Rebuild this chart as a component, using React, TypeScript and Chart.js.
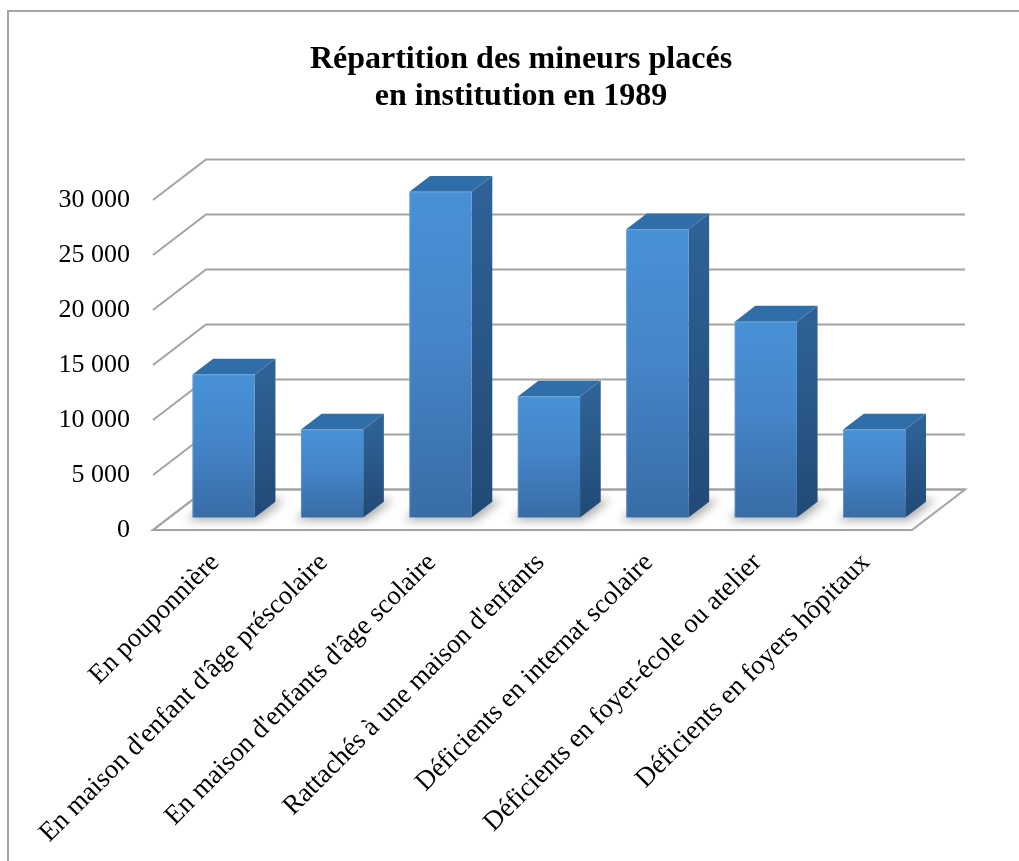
import React, { useEffect, useRef } from "react";
import { Chart, registerables } from "chart.js";

Chart.register(...registerables);

const categories: string[] = [
  "En pouponnière",
  "En maison d'enfant d'âge préscolaire",
  "En maison d'enfants d'âge scolaire",
  "Rattachés à une maison d'enfants",
  "Déficients en internat scolaire",
  "Déficients en foyer-école ou atelier",
  "Déficients en foyers hôpitaux",
];
const values: number[] = [13000, 8000, 29600, 11000, 26200, 17800, 8000];
const yTickValues: number[] = [0, 5000, 10000, 15000, 20000, 25000, 30000];
const titleLines: string[] = ["Répartition des mineurs placés", "en institution en 1989"];

const FONT = '"Liberation Serif", "Times New Roman", serif';
const DEPTH_X = 53;
const DEPTH_Y = -40.5;
const BAR_FRONT = 0.31;
const BAR_BACK = 0.7;
const GRID = "#a3a3a3";

function fmt(v: number): string {
  return String(v).replace(/\B(?=(\d{3})+(?!\d))/g, " ");
}

const threeD = {
  id: "threeD",
  beforeDatasetsDraw(chart: any) {
    const ctx: CanvasRenderingContext2D = chart.ctx;
    const ys = chart.scales.y;
    const { left, right } = chart.chartArea;
    const y0 = ys.getPixelForValue(0);
    ctx.save();
    // floor
    ctx.beginPath();
    ctx.moveTo(left, y0);
    ctx.lineTo(right, y0);
    ctx.lineTo(right + DEPTH_X, y0 + DEPTH_Y);
    ctx.lineTo(left + DEPTH_X, y0 + DEPTH_Y);
    ctx.closePath();
    ctx.fillStyle = "#ffffff";
    ctx.fill();
    ctx.lineWidth = 2;
    ctx.strokeStyle = GRID;
    ctx.stroke();
    // grid lines (left wall diagonal + back wall)
    yTickValues.forEach((v) => {
      const py = ys.getPixelForValue(v);
      ctx.beginPath();
      ctx.moveTo(left, py);
      ctx.lineTo(left + DEPTH_X, py + DEPTH_Y);
      ctx.lineTo(right + DEPTH_X, py + DEPTH_Y);
      ctx.stroke();
    });
    // shadows on the floor
    const meta = chart.getDatasetMeta(0);
    const ox = BAR_FRONT * DEPTH_X;
    const oy = BAR_FRONT * DEPTH_Y;
    const bdx = (BAR_BACK - BAR_FRONT) * DEPTH_X;
    const bdy = (BAR_BACK - BAR_FRONT) * DEPTH_Y;
    meta.data.forEach((el: any) => {
      const x0 = el.x - el.width / 2 + ox;
      const x1 = el.x + el.width / 2 + ox;
      const b = el.base + oy;
      ctx.save();
      ctx.filter = "blur(5px)";
      ctx.fillStyle = "rgba(0,0,0,0.32)";
      ctx.beginPath();
      ctx.moveTo(x0 - 6, b + 3);
      ctx.lineTo(x1 + 4, b + 3);
      ctx.lineTo(x1 + bdx + 10, b + bdy - 2);
      ctx.lineTo(x0 + bdx - 2, b + bdy - 2);
      ctx.closePath();
      ctx.fill();
      ctx.restore();
    });
    ctx.restore();
  },
  afterDatasetsDraw(chart: any) {
    const ctx: CanvasRenderingContext2D = chart.ctx;
    const meta = chart.getDatasetMeta(0);
    const ox = BAR_FRONT * DEPTH_X;
    const oy = BAR_FRONT * DEPTH_Y;
    const bdx = (BAR_BACK - BAR_FRONT) * DEPTH_X;
    const bdy = (BAR_BACK - BAR_FRONT) * DEPTH_Y;
    ctx.save();
    meta.data.forEach((el: any) => {
      const x0 = el.x - el.width / 2 + ox;
      const x1 = el.x + el.width / 2 + ox;
      const top = el.y + oy;
      const bot = el.base + oy;
      // side face
      const sg = ctx.createLinearGradient(0, top, 0, bot);
      sg.addColorStop(0, "#2f6196");
      sg.addColorStop(1, "#214a76");
      ctx.fillStyle = sg;
      ctx.beginPath();
      ctx.moveTo(x1, top);
      ctx.lineTo(x1 + bdx, top + bdy);
      ctx.lineTo(x1 + bdx, bot + bdy);
      ctx.lineTo(x1, bot);
      ctx.closePath();
      ctx.fill();
      // top face
      ctx.fillStyle = "#306ea9";
      ctx.beginPath();
      ctx.moveTo(x0, top);
      ctx.lineTo(x1, top);
      ctx.lineTo(x1 + bdx, top + bdy);
      ctx.lineTo(x0 + bdx, top + bdy);
      ctx.closePath();
      ctx.fill();
      // front face
      const fg = ctx.createLinearGradient(0, top, 0, bot);
      fg.addColorStop(0, "#4891d5");
      fg.addColorStop(0.45, "#4585c9");
      fg.addColorStop(1, "#386ca6");
      ctx.fillStyle = fg;
      ctx.fillRect(x0, top, x1 - x0, bot - top);
      ctx.strokeStyle = "rgba(120,170,220,0.5)";
      ctx.lineWidth = 1;
      ctx.beginPath();
      ctx.moveTo(x0 + 0.5, bot);
      ctx.lineTo(x0 + 0.5, top + 0.5);
      ctx.lineTo(x1, top + 0.5);
      ctx.stroke();
    });
    ctx.restore();
  },
};

export default function App() {
  const ref = useRef<HTMLCanvasElement | null>(null);
  useEffect(() => {
    if (!ref.current) return;
    const chart = new Chart(ref.current, {
      type: "bar",
      data: {
        labels: categories,
        datasets: [
          {
            data: values,
            backgroundColor: "rgba(0,0,0,0)",
            borderWidth: 0,
            categoryPercentage: 1,
            barPercentage: 0.574,
          },
        ],
      },
      options: {
        responsive: false,
        animation: false,
        events: [],
        layout: { padding: { left: 23, right: 0, top: 0, bottom: 0 } },
        plugins: {
          legend: { display: false },
          tooltip: { enabled: false },
          title: {
            display: true,
            text: titleLines,
            color: "#000000",
            font: { family: FONT, size: 32, weight: "bold", lineHeight: 37 / 32 },
            padding: { top: 41.5, bottom: 84.5 },
          },
        },
        scales: {
          x: {
            type: "category",
            offset: true,
            grid: { display: false, drawTicks: false },
            border: { display: false },
            ticks: {
              autoSkip: false,
              maxRotation: 45,
              minRotation: 45,
              labelOffset: 8,
              padding: 17,
              color: "#000000",
              font: { family: FONT, size: 27 },
            },
            afterFit(s: any) {
              s.height = 331;
              s.paddingLeft = 0;
              s.paddingRight = 0;
            },
          },
          y: {
            position: "left",
            min: 0,
            max: 30000,
            grid: { display: false, drawTicks: false },
            border: { display: false },
            ticks: {
              stepSize: 5000,
              padding: 23,
              color: "#000000",
              font: { family: FONT, size: 26 },
              callback: (v: any) => fmt(Number(v)),
            },
            afterFit(s: any) {
              s.width = 130;
              s.paddingTop = 0;
              s.paddingBottom = 0;
            },
          },
          yRight: {
            position: "right",
            display: true,
            min: 0,
            max: 30000,
            grid: { display: false, drawTicks: false },
            border: { display: false },
            ticks: { display: false },
            afterFit(s: any) {
              s.width = 107;
              s.paddingTop = 0;
              s.paddingBottom = 0;
            },
          },
        },
      },
      plugins: [threeD],
    } as any);
    return () => chart.destroy();
  }, []);

  return (
    <div
      style={{
        position: "fixed",
        left: 0,
        top: 0,
        width: 1019,
        height: 861,
        overflow: "hidden",
        background: "#ffffff",
      }}
    >
      <div
        style={{
          position: "absolute",
          left: 7,
          top: 10,
          width: 1100,
          height: 1000,
          borderLeft: "2px solid #a6a6a6",
          borderTop: "2px solid #a6a6a6",
        }}
      />
      <canvas
        ref={ref}
        width={1019}
        height={861}
        style={{ position: "absolute", left: 0, top: 0, width: 1019, height: 861 }}
      />
    </div>
  );
}
